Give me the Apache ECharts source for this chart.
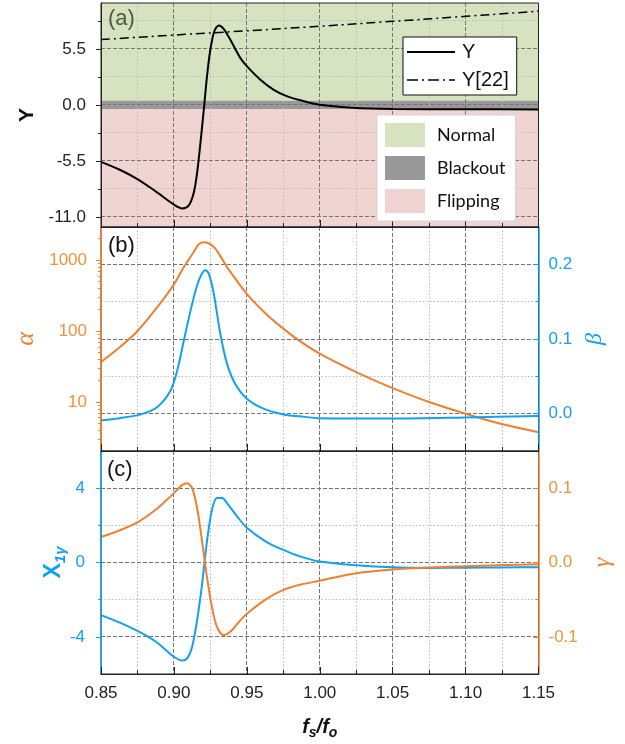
<!DOCTYPE html>
<html><head><meta charset="utf-8">
<script src="https://cdn.jsdelivr.net/npm/echarts@6/dist/echarts.min.js"></script>
<style>html,body{margin:0;padding:0;background:#fff}#c{width:625px;height:744px}</style>
</head><body><div id="c"></div>
<script>
// ---------- data ----------
// Panel (a)
const yCurveX = [0.85,0.8625,0.875,0.8875,0.90,0.9057,0.9102,0.9136,0.9159,0.9182,0.9205,0.9227,0.925,0.9277,0.9307,0.9341,0.9386,0.9455,0.95,0.9591,0.9682,0.9773,0.9864,1.0,1.022,1.05,1.10,1.15];
const yCurveV = [-5.6,-6.35,-7.29,-8.5,-9.8,-10.18,-9.88,-8.64,-6.68,-3.73,-0.46,2.81,5.43,7.23,7.79,7.46,6.41,4.61,3.8,2.49,1.5,0.85,0.46,0.0,-0.28,-0.40,-0.44,-0.45];
const y22X = [0.85,0.90,0.95,1.00,1.05,1.10,1.15];
const y22V = [6.41,6.85,7.27,7.72,8.2,8.69,9.19];
const bandNormal = [0.4, 10];
const bandBlackout = [-0.4, 0.4];
const bandFlipping = [-12, -0.4];
// Panel (b)
const alphaX = [0.85,0.863,0.8744,0.8886,0.90,0.9068,0.9136,0.9172,0.921,0.925,0.9284,0.9324,0.9364,0.95,0.9636,0.975,0.9864,1.0,1.025,1.05,1.075,1.10,1.124,1.15];
const alphaV = [36.6,59.6,97,217,454,796,1297,1683,1780,1675,1445,1086,796,334,171,108,72,48,26.4,15.7,10,6.84,4.94,3.76];
const betaX = [0.85,0.8627,0.8773,0.8886,0.8977,0.9023,0.9068,0.9114,0.9159,0.9193,0.9216,0.9239,0.9273,0.9318,0.9364,0.942,0.95,0.9614,0.975,0.9864,1.0,1.05,1.10,1.15];
const betaV = [-0.009,-0.006,-0.001,0.0089,0.031,0.058,0.098,0.138,0.172,0.188,0.192,0.1875,0.161,0.107,0.067,0.040,0.020,0.0067,-0.001,-0.0036,-0.006,-0.0065,-0.005,-0.003];
// Panel (c)
const chiX = [0.85,0.8625,0.875,0.8875,0.895,0.90,0.9057,0.9091,0.9125,0.9159,0.9193,0.9227,0.9261,0.9295,0.933,0.9364,0.9432,0.95,0.9636,0.975,0.9864,1.0,1.025,1.05,1.075,1.10,1.125,1.15];
const chiV = [-2.83,-3.22,-3.68,-4.25,-4.75,-5.07,-5.28,-5.16,-4.53,-3.11,-1.16,1.16,2.84,3.47,3.47,3.2,2.49,1.87,1.1,0.68,0.33,0.05,-0.15,-0.26,-0.29,-0.28,-0.27,-0.25];
const gammaX = [0.85,0.8625,0.875,0.8875,0.895,0.90,0.9057,0.9091,0.9125,0.9159,0.9193,0.9227,0.9261,0.9295,0.9341,0.9386,0.9455,0.95,0.9636,0.975,0.9864,1.0,1.025,1.05,1.075,1.10,1.15];
const gammaV = [0.0344,0.043,0.054,0.071,0.084,0.0933,0.1044,0.1067,0.100,0.0733,0.0289,-0.02,-0.06,-0.0867,-0.0978,-0.0933,-0.0778,-0.0689,-0.0489,-0.0369,-0.0300,-0.0245,-0.0145,-0.0094,-0.0067,-0.005,-0.0023];
// Ticks / grid values
const xRange = [0.85, 1.15];
const xStep = 0.05;
const xGridMajor = [0.90,0.95,1.00,1.05,1.10];
const xGridMinor = [0.875,0.925,0.975,1.025,1.075,1.125];
const yTicksMajor = [-11,-5.5,0,5.5];
const yTicksMinor = [-8.25,-2.75,2.75,8.25];
const alphaTicksMajor = [10,100,1000];
const alphaTicksMinor = [3,4,5,6,7,8,9,20,30,40,50,60,70,80,90,200,300,400,500,600,700,800,900,2000];
const betaTicksMajor = [0,0.1,0.2];
const betaTicksMinor = [0.05,0.15];
const chiTicksMajor = [-4,0,4];
const chiTicksMinor = [-2,2];
const gammaTicksMajor = [-0.1,0,0.1];
const gammaTicksMinor = [-0.05,0.05];

const pairs = (xs, ys) => xs.map((x,i)=>[x, ys[i]]);

// ---------- styles ----------
const ORANGE = '#EE8030';
const BLUE = '#12A1F0';
const FONT = 'Liberation Sans, Arial, sans-serif';
const SERIF = 'Liberation Serif, Times New Roman, serif';

const grids = [
  {left:101, right:86.5, top:3, height:224},
  {left:101, right:86.5, top:227, height:224},
  {left:101, right:86.5, top:451, height:223}
].map(g=>Object.assign({show:true, z:4, borderColor:'#222', borderWidth:1, containLabel:false, outerBoundsMode:'none'}, g));

function xAx(gi, showLabel){
  const a = {
    type:'value', gridIndex:gi, min:xRange[0], max:xRange[1], interval:xStep, position:'bottom', z:4,
    axisLine:{show:true, onZero:false, lineStyle:{color:'#222', width:1}},
    axisTick:{show:true, inside:true, length:7, lineStyle:{color:'#222'}},
    minorTick:{show:true, splitNumber:2, length:4, lineStyle:{color:'#222'}},
    splitLine:{show:false}, minorSplitLine:{show:false},
    axisLabel:{show:showLabel, margin:11, color:'#222', fontSize:17, fontFamily:FONT, formatter:v=>v.toFixed(2)}
  };
  if (showLabel){
    a.name = '{b|f}{s|s}{b|/f}{s|o}';
    a.nameLocation = 'middle';
    a.nameGap = 40;
    a.nameMoveOverlap = false;
    a.nameTextStyle = {rich:{
      b:{fontSize:20, fontWeight:'bold', fontStyle:'italic', fontFamily:FONT, color:'#111', lineHeight:26, verticalAlign:'middle'},
      s:{fontSize:14, fontWeight:'bold', fontStyle:'italic', fontFamily:FONT, color:'#111', lineHeight:26, verticalAlign:'bottom'}
    }};
  }
  return a;
}

function yAx(o){
  const color = o.color || '#222';
  const ax = {
    type:o.type || 'value', gridIndex:o.grid, position:o.pos, min:o.min, max:o.max, z:4,
    axisLine:{show:!o.minor, onZero:false, lineStyle:{color:color, width:o.lineW || 1}},
    axisTick:{show:true, inside:!!o.inside, length:o.minor?3:5, customValues:o.ticks, lineStyle:{color:color, width:1}},
    axisLabel:o.minor ? {show:false} : {show:true, customValues:o.ticks, margin:o.margin, color:o.labelColor || color, fontSize:17, fontFamily:FONT, formatter:o.fmt},
    splitLine:{show:false},
    nameMoveOverlap:false
  };
  if (o.name){
    ax.name = o.name; ax.nameLocation = 'middle'; ax.nameGap = o.nameGap; ax.nameRotate = 90;
    ax.nameTextStyle = o.nameStyle;
  }
  return ax;
}

const yAxes = [
  yAx({grid:0, pos:'left', min:-12, max:10, ticks:yTicksMajor, margin:15, fmt:v=>v.toFixed(1),
       name:'Y', nameGap:63, nameStyle:{fontSize:21, fontWeight:'bold', fontFamily:FONT, color:'#111'}}),
  yAx({grid:0, pos:'left', min:-12, max:10, ticks:yTicksMinor, minor:true}),
  yAx({grid:1, pos:'left', type:'log', min:2.04, max:2920, ticks:alphaTicksMajor, color:ORANGE, lineW:1.5, margin:14, labelColor:'#F0923E', fmt:v=>String(Math.round(v)),
       name:'α', nameGap:62, nameStyle:{fontSize:26, fontStyle:'italic', fontFamily:SERIF, color:ORANGE}}),
  yAx({grid:1, pos:'left', type:'log', min:2.04, max:2920, ticks:alphaTicksMinor, color:ORANGE, minor:true}),
  yAx({grid:1, pos:'right', min:-0.05, max:0.25, ticks:betaTicksMajor, color:BLUE, lineW:1.5, inside:true, margin:10, fmt:v=>v.toFixed(1),
       name:'β', nameGap:44, nameStyle:{fontSize:24, fontStyle:'italic', fontFamily:SERIF, color:BLUE}}),
  yAx({grid:1, pos:'right', min:-0.05, max:0.25, ticks:betaTicksMinor, color:BLUE, inside:true, minor:true}),
  yAx({grid:2, pos:'left', min:-6, max:6, ticks:chiTicksMajor, color:BLUE, lineW:1.5, margin:16, fmt:v=>String(v),
       name:'{x|X}{s|1γ}', nameGap:33, nameStyle:{rich:{
         x:{fontSize:23, fontWeight:'bold', fontFamily:FONT, color:BLUE, lineHeight:28, verticalAlign:'middle'},
         s:{fontSize:15, fontStyle:'italic', fontWeight:'bold', fontFamily:FONT, color:BLUE, lineHeight:28, verticalAlign:'bottom'}}}}),
  yAx({grid:2, pos:'left', min:-6, max:6, ticks:chiTicksMinor, color:BLUE, minor:true}),
  yAx({grid:2, pos:'right', min:-0.15, max:0.15, ticks:gammaTicksMajor, color:ORANGE, lineW:1.5, inside:true, margin:10, labelColor:'#F0923E', fmt:v=>v.toFixed(1),
       name:'γ', nameGap:52, nameStyle:{fontSize:24, fontStyle:'italic', fontFamily:SERIF, color:ORANGE}}),
  yAx({grid:2, pos:'right', min:-0.15, max:0.15, ticks:gammaTicksMinor, color:ORANGE, inside:true, minor:true})
];

// Region bands: custom series, rectangle from the axis scale
function band(name, color, range){
  return {
    name:name, type:'custom', xAxisIndex:0, yAxisIndex:0, z:0, silent:true,
    itemStyle:{color:color},
    encode:{x:[0,1], y:[2,3]},
    data:[[xRange[0], xRange[1], range[0], range[1]]],
    renderItem:(params, api)=>{
      const p1 = api.coord([api.value(0), api.value(3)]);
      const p2 = api.coord([api.value(1), api.value(2)]);
      return {type:'rect', shape:{x:p1[0], y:p1[1], width:p2[0]-p1[0], height:p2[1]-p1[1]}, style:{fill:color}};
    }
  };
}
// Grid lines: custom series on the panel's own axes; item = [value, vertical?1:0, major?1:0]
function gridLines(xi, yi, yMajor, yMinor){
  const d = [];
  xGridMinor.forEach(v=>d.push([v, 1, 0]));
  yMinor.forEach(v=>d.push([v, 0, 0]));
  xGridMajor.forEach(v=>d.push([v, 1, 1]));
  yMajor.forEach(v=>d.push([v, 0, 1]));
  return {
    name:'grid'+xi, type:'custom', xAxisIndex:xi, yAxisIndex:yi, z:1, silent:true,
    data:d, clip:false,
    renderItem:(params, api)=>{
      const cs = params.coordSys;
      const v = api.value(0), vert = api.value(1), major = api.value(2);
      const snap = t => Math.round(t - 0.5) + 0.5;
      let p;
      if (vert){
        const x = snap(api.coord([v, 0])[0]);
        p = [x, cs.y, x, cs.y + cs.height];
      } else {
        const y = snap(api.coord([xRange[0], v])[1]);
        p = [cs.x, y, cs.x + cs.width, y];
      }
      return {type:'line', shape:{x1:p[0], y1:p[1], x2:p[2], y2:p[3]},
        style: major ? {stroke:'#747474', lineWidth:1, lineDash:[4,2]} : {stroke:'#bababa', lineWidth:1, lineDash:[1.5,2]}};
    }
  };
}
function line(name, xi, yi, xs, ys, color, extra){
  return Object.assign({
    name:name, type:'line', xAxisIndex:xi, yAxisIndex:yi, data:pairs(xs, ys), symbol:'none', showSymbol:false,
    smooth:0.3, z:2,
    lineStyle:{color:color, width:2}, itemStyle:{color:color}
  }, extra || {});
}

const ICON_SOLID = 'path://M0,0H48V2H0Z';
const ICON_DASHDOT = 'path://M0,0H11V1.6H0Z M15,0H17V1.6H15Z M21,0H32V1.6H21Z M36,0H38V1.6H36Z M42,0H48V1.6H42Z';

const option = {
  animation:false,
  backgroundColor:'#fff',
  grid:grids,
  xAxis:[xAx(0,false), xAx(1,false), xAx(2,true)],
  yAxis:yAxes,
  legend:[
    {data:[{name:'Y', icon:ICON_SOLID, itemStyle:{color:'#000'}}, {name:'Y[22]', icon:ICON_DASHDOT, itemStyle:{color:'#000'}}],
     left:403, top:37, orient:'vertical', itemWidth:48, itemHeight:2, itemGap:8, z:10,
     padding:[5,8,5,4], backgroundColor:'#fff', borderColor:'#111', borderWidth:1, selectedMode:false,
     textStyle:{fontSize:20, color:'#111', fontFamily:FONT, padding:[0,0,0,2]}},
    {data:['Normal','Blackout','Flipping'], left:377, top:115, orient:'vertical', icon:'rect', itemWidth:40, itemHeight:24, itemGap:9, z:10,
     padding:[8,10,8,8], backgroundColor:'#fff', borderColor:'#d4d4d4', borderWidth:1, selectedMode:false,
     textStyle:{fontSize:18, color:'#111', fontFamily:'Lato, Open Sans, sans-serif', padding:[0,0,0,7]}}
  ],
  graphic:[
    {type:'text', left:108, top:8, z:10, style:{text:'(a)', fontSize:22, fontFamily:FONT, fill:'#4e5a42'}},
    {type:'text', left:108, top:235, z:10, style:{text:'(b)', fontSize:22, fontFamily:FONT, fill:'#111'}},
    {type:'text', left:107, top:459, z:10, style:{text:'(c)', fontSize:22, fontFamily:FONT, fill:'#111'}}
  ],
  series:[
    band('Normal', '#d6e2c0', bandNormal),
    band('Blackout', '#999999', bandBlackout),
    band('Flipping', '#f0d4d2', bandFlipping),
    gridLines(0, 0, yTicksMajor, yTicksMinor),
    gridLines(1, 4, betaTicksMajor, betaTicksMinor),
    gridLines(2, 8, gammaTicksMajor, gammaTicksMinor),
    line('Y', 0, 0, yCurveX, yCurveV, '#000'),
    line('Y[22]', 0, 0, y22X, y22V, '#000', {smooth:0.5, lineStyle:{color:'#000', width:1.5, type:[9,4,2,4]}}),
    line('alpha', 1, 2, alphaX, alphaV, ORANGE),
    line('beta', 1, 4, betaX, betaV, BLUE),
    line('chi', 2, 6, chiX, chiV, BLUE),
    line('gamma', 2, 8, gammaX, gammaV, ORANGE)
  ]
};
const chart = echarts.init(document.getElementById('c'), null, {renderer:'canvas'});
chart.setOption(option);
</script></body></html>
